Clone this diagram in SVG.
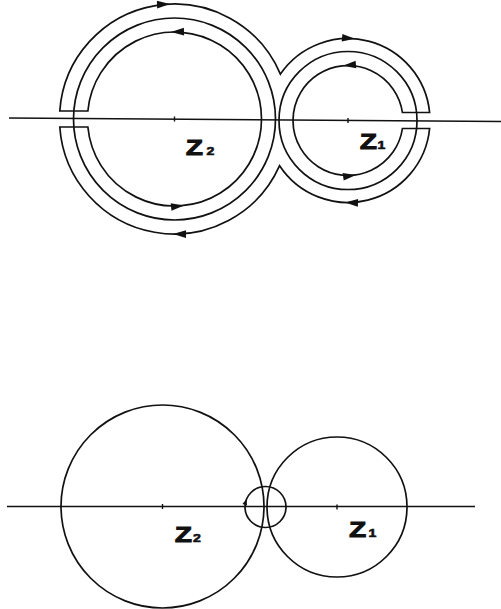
<svg xmlns="http://www.w3.org/2000/svg" xmlns:xlink="http://www.w3.org/1999/xlink" width="501" height="609" viewBox="0 0 501 609">
<style>
.ln{fill:none;stroke:#111;stroke-width:1.7}
.ax{fill:none;stroke:#111;stroke-width:1.4}
.ah{fill:#111;stroke:none}
.lbl{font-family:"Liberation Sans",Arial,sans-serif;font-weight:bold;font-size:21.5px;fill:#111;stroke:#111;stroke-width:1.1}
.sub{font-size:11px;stroke-width:0.6}
</style>
<defs>
<path id="ah" d="M0,0 L-13,-3.8 L-13,3.8 Z"/>
<path id="ahs" d="M0,0 L-6,-2.4 L-6,2.4 Z"/>
</defs>
<rect width="501" height="609" fill="#fff"/>

<g id="connectors">
  <line class="ax" x1="9" y1="118" x2="501" y2="121.5"/>
  <line class="ax" x1="7" y1="506.5" x2="475" y2="506.5"/>
</g>

<g id="top-contour">
  <path class="ln" d="M59.78,111 A115,115 0 0 1 280.38,74.12 A82,82 0 0 1 429.61,112.5 L402.42,112.5 A55,55 0 1 0 402.42,128.5 L429.61,128.5 A82,82 0 0 1 279.59,165.7 A115,115 0 0 1 59.78,127 L87.87,127 A87,87 0 1 0 87.87,111 Z"/>
  <use xlink:href="#ah" class="ah" transform="translate(170,4.1) rotate(-2.2)"/>
  <use xlink:href="#ah" class="ah" transform="translate(171,32) rotate(178.4)"/>
  <use xlink:href="#ah" class="ah" transform="translate(184,205.5) rotate(-6.3)"/>
  <use xlink:href="#ah" class="ah" transform="translate(173,234) rotate(180.7)"/>
  <use xlink:href="#ah" class="ah" transform="translate(355,38.8) rotate(4.9)"/>
  <use xlink:href="#ah" class="ah" transform="translate(343,65.7) rotate(174.8)"/>
  <use xlink:href="#ah" class="ah" transform="translate(356,174.9) rotate(-8.4)"/>
  <use xlink:href="#ah" class="ah" transform="translate(345,202.4) rotate(182.1)"/>
</g>

<g id="top-z2">
  <circle class="ln" cx="174.5" cy="119" r="101"/>
  <line class="ax" x1="174.5" y1="116.5" x2="174.5" y2="121.5"/>
  <text class="lbl" transform="translate(186,155) scale(1.28,1)">Z<tspan class="sub" dx="2.8">2</tspan></text>
</g>

<g id="top-z1">
  <circle class="ln" cx="348" cy="120.5" r="69"/>
  <line class="ax" x1="348" y1="118" x2="348" y2="123"/>
  <text class="lbl" transform="translate(360,148.5) scale(1.28,1)">Z<tspan class="sub" dx="0.5">1</tspan></text>
</g>

<g id="bottom-z2">
  <circle class="ln" cx="162.5" cy="506.5" r="101.5"/>
  <line class="ax" x1="162.5" y1="504" x2="162.5" y2="509"/>
  <text class="lbl" transform="translate(175,542) scale(1.28,1)">Z<tspan class="sub" dx="0.9">2</tspan></text>
</g>

<g id="bottom-z1">
  <circle class="ln" cx="337" cy="507" r="70"/>
  <line class="ax" x1="337" y1="504.5" x2="337" y2="509.5"/>
  <text class="lbl" transform="translate(349.3,537) scale(1.28,1)">Z<tspan class="sub" dx="1.8">1</tspan></text>
</g>

<g id="bottom-small">
  <circle class="ln" cx="265.5" cy="507" r="20.5"/>
  <use xlink:href="#ahs" class="ah" transform="translate(246.5,499) rotate(-73)"/>
</g>
</svg>
